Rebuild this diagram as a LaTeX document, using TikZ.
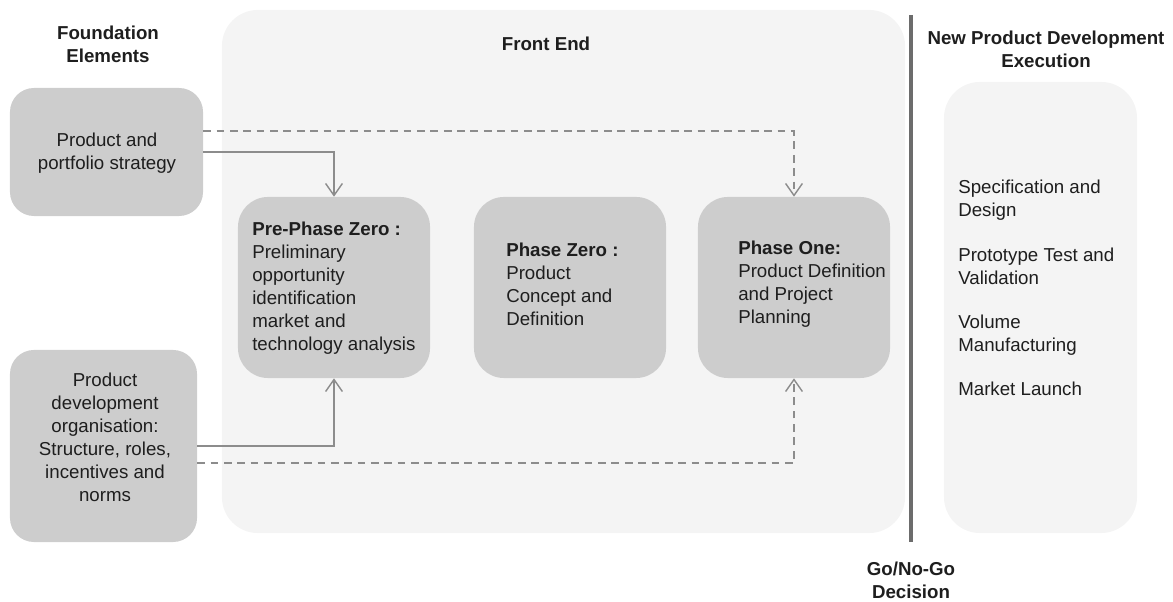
\documentclass[tikz,border=0pt]{standalone}
\usepackage{fontspec}
\setmainfont{Liberation Sans}
\usetikzlibrary{arrows.meta, positioning}

\definecolor{boxgray}{HTML}{CDCDCD}
\definecolor{areagray}{HTML}{F4F4F4}
\definecolor{linegray}{HTML}{8C8C8C}
\definecolor{textdark}{HTML}{1E1E1E}

\begin{document}
\begin{tikzpicture}[x=0.025cm, y=-0.025cm, >={Straight Barb[length=3mm, width=4.2mm]},
		font=\fontsize{13.3}{16.4}\selectfont, text=textdark]
					\tikzstyle{area} = [fill=areagray, draw=none, rectangle, rounded corners=0.9cm]
					\tikzstyle{found} = [fill=boxgray, draw=none, rectangle, rounded corners=0.6cm]
					\tikzstyle{phase} = [fill=boxgray, draw=none, rectangle, rounded corners=0.75cm, minimum width=4.8cm, minimum height=4.525cm]
					\tikzstyle{txt} = [inner sep=0pt, align=left, anchor=west]
					\tikzstyle{head} = [inner sep=0pt, align=center, font=\fontsize{13.3}{16.4}\selectfont\bfseries]
					\tikzstyle{link} = [linegray, line width=1pt]
					
					\useasboundingbox (0, 0) rectangle (1173, 602);
					
					% background areas
					\node[area, minimum width=17.075cm, minimum height=13.075cm] at (563.5, 271.5) (fe) {};
					\node[area, minimum width=4.825cm, minimum height=11.275cm] at (1040.5, 307.5) (ex) {};
					
					% foundation elements
					\node[found, minimum width=4.825cm, minimum height=3.2cm] at (106.5, 152) (f1) {};
					\node[found, minimum width=4.675cm, minimum height=4.8cm] at (103.5, 446) (f2) {};
					
					% front end phases
					\node[phase] at (334, 287.5) (q0) {};
					\node[phase] at (570, 287.5) (q1) {};
					\node[phase] at (794, 287.5) (q2) {};
					
					% go/no-go line
					\draw[line width=2.2pt, gray!85!black] (911, 15) -- (911, 542);
					
					% headings
					\node[head] at (108, 44)  (h0) {Foundation\\Elements};
					\node[head] at (546, 44)  (h1) {Front End};
					\node[head] at (1046, 49) (h2) {New Product Development\\Execution};
					\node[head] at (911, 580) (h3) {Go/No-Go\\Decision};
					
					% box texts
					\node[inner sep=0pt, align=center] at (107, 153) (t1) {Product and\\portfolio strategy};
					\node[inner sep=0pt, align=center] at (105, 437) (t2) {Product\\development\\organisation:\\Structure, roles,\\incentives and\\norms};
					\node[txt] at (252, 288)   (t3) {\textbf{Pre-Phase Zero :}\\Preliminary\\opportunity\\identification\\market and\\technology analysis};
					\node[txt] at (506, 284.5) (t4) {\textbf{Phase Zero :}\\Product\\Concept and\\Definition};
					\node[txt] at (738, 284.5) (t5) {\textbf{Phase One:}\\Product Definition\\and Project\\Planning};
					\node[txt] at (958, 288)   (t6) {Specification and\\Design\\[15pt]Prototype Test and\\Validation\\[15pt]Volume\\Manufacturing\\[15pt]Market Launch};
					
					% links
					\draw[link, ->] (f1.east) -| (q0.north);
					\draw[link, ->, dash pattern=on 5.5pt off 4pt] ([yshift=0.525cm]f1.east) -| (q2.north);
					\draw[link, ->] (f2.east) -| (q0.south);
					\draw[link, ->, dash pattern=on 5.5pt off 4pt] ([yshift=-0.425cm]f2.east) -| (q2.south);
				\end{tikzpicture}
\end{document}
